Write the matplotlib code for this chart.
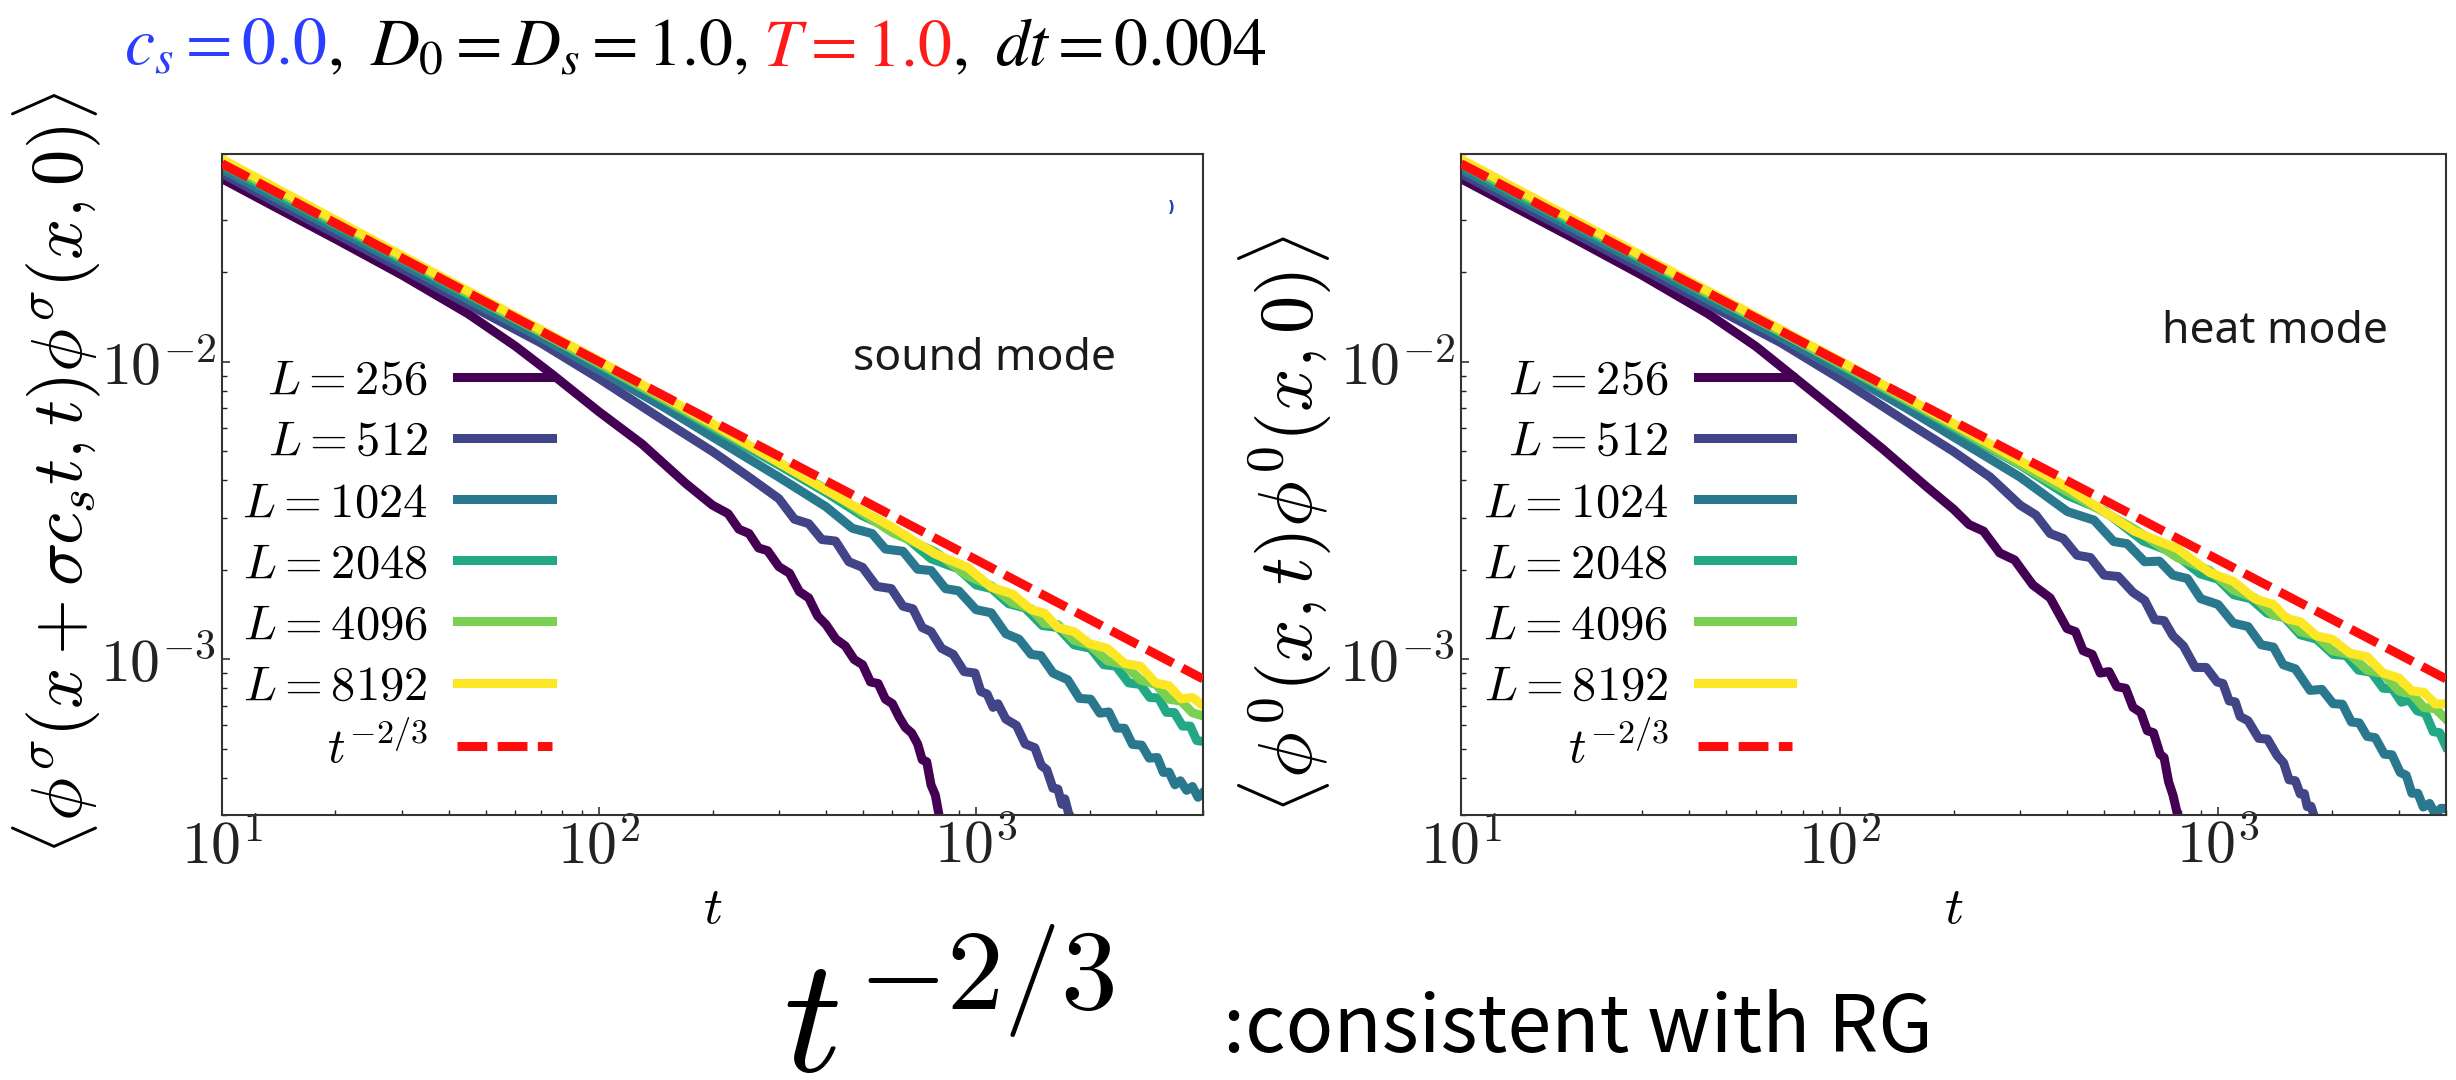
import matplotlib
matplotlib.use("Agg")
import matplotlib.pyplot as plt
from matplotlib.ticker import LogLocator, NullFormatter, FuncFormatter
import numpy as np

plt.rcParams['mathtext.fontset'] = 'cm'
plt.rcParams['font.family'] = ['DejaVu Sans']

W, H = 2456, 1080

# ---------------- data ----------------
sizes = [256, 512, 1024, 2048, 4096, 8192]
labels = [r"$L = 256$", r"$L = 512$", r"$L = 1024$", r"$L = 2048$",
          r"$L = 4096$", r"$L = 8192$"]
ref_label = r"$t^{-2/3}$"
colors = ['#440154', '#414487', '#2a788e', '#22a884', '#7ad151', '#fde725']

t_ref = [10, 4000]
v_ref_sound = [0.0464, 0.00086]
v_ref_heat = [0.0464, 0.00086]

# ---- sound mode ----
t_s256 = [10, 14, 20, 30, 45, 60, 75, 100, 130, 170, 200,
          220, 235, 250, 265, 280, 300, 320, 340, 360, 380, 400, 425, 450, 475, 500, 525, 550, 575, 600, 625,
          650, 675, 700, 720, 740, 760, 780, 800, 820]
v_s256 = [0.0413, 0.0329, 0.0259, 0.0196, 0.0145, 0.0113, 0.0091, 0.0068, 0.0053, 0.0039, 0.0033,
          3.09e-3, 2.74e-3, 2.65e-3, 2.37e-3, 2.32e-3, 2.05e-3, 1.95e-3, 1.69e-3, 1.61e-3, 1.40e-3, 1.31e-3,
          1.17e-3, 1.11e-3, 1.00e-3, 0.96e-3, 0.84e-3, 0.83e-3, 0.735e-3, 0.71e-3, 0.64e-3, 0.59e-3, 0.566e-3,
          0.52e-3, 0.46e-3, 0.453e-3, 0.378e-3, 0.35e-3, 0.294e-3, 0.27e-3]

t_s512 = [10, 14, 20, 30, 45, 70, 100, 150, 200, 250,
          300, 330, 360, 390, 424, 460, 500, 545, 596, 640, 680, 720, 760, 810, 870, 930, 994, 1030, 1070, 1110,
          1143, 1200, 1280, 1350, 1432, 1490, 1540, 1600, 1648, 1690, 1720, 1760, 1800]
v_s512 = [0.0430, 0.0342, 0.0270, 0.0206, 0.0156, 0.0116, 0.0088, 0.0063, 0.0050, 0.0041,
          3.47e-3, 2.96e-3, 2.86e-3, 2.53e-3, 2.50e-3, 2.13e-3, 2.04e-3, 1.76e-3, 1.73e-3, 1.51e-3, 1.48e-3,
          1.28e-3, 1.24e-3, 1.09e-3, 1.04e-3, 0.91e-3, 0.90e-3, 0.78e-3, 0.765e-3, 0.69e-3, 0.71e-3, 0.63e-3,
          0.60e-3, 0.52e-3, 0.505e-3, 0.44e-3, 0.426e-3, 0.369e-3, 0.367e-3, 0.326e-3, 0.34e-3, 0.304e-3, 0.29e-3]

t_s1024 = [10, 14, 20, 30, 45, 70, 100, 150, 200, 300,
           400, 470, 530, 575, 640, 700, 760, 830, 900, 1000, 1097, 1200, 1300, 1400, 1486, 1600, 1750, 1880,
           2014, 2130, 2250, 2360, 2477, 2600, 2750, 2880, 3027, 3140, 3250, 3370, 3483, 3620, 3750, 3880, 4000]
v_s1024 = [0.0445, 0.0354, 0.0280, 0.0214, 0.0162, 0.0121, 0.0094, 0.0070, 0.0056, 0.0041,
           3.26e-3, 2.76e-3, 2.65e-3, 2.35e-3, 2.31e-3, 2.01e-3, 1.99e-3, 1.73e-3, 1.70e-3, 1.47e-3, 1.435e-3,
           1.22e-3, 1.17e-3, 1.04e-3, 1.03e-3, 0.90e-3, 0.855e-3, 0.74e-3, 0.735e-3, 0.66e-3, 0.666e-3,
           0.588e-3, 0.587e-3, 0.518e-3, 0.515e-3, 0.466e-3, 0.468e-3, 0.417e-3, 0.418e-3, 0.379e-3, 0.391e-3,
           0.363e-3, 0.374e-3, 0.344e-3, 0.357e-3]

t_s2048 = [10, 14, 20, 30, 45, 70, 100, 150, 200, 300,
           400, 500, 634, 760, 896, 1000, 1100, 1220, 1349, 1500, 1650, 1820, 2014, 2180, 2350, 2540, 2729,
           2890, 3050, 3200, 3357, 3530, 3700, 3850, 4000]
v_s2048 = [0.0460, 0.0366, 0.0289, 0.0221, 0.0168, 0.0126, 0.0098, 0.0074, 0.0060, 0.0045,
           3.64e-3, 3.04e-3, 2.65e-3, 2.18e-3, 2.02e-3, 1.78e-3, 1.73e-3, 1.54e-3, 1.49e-3, 1.30e-3, 1.28e-3,
           1.12e-3, 1.09e-3, 0.96e-3, 0.95e-3, 0.834e-3, 0.824e-3, 0.745e-3, 0.742e-3, 0.664e-3, 0.663e-3,
           0.597e-3, 0.597e-3, 0.534e-3, 0.530e-3]

t_s4096 = [10, 20, 45, 100, 200,
           400, 600, 780, 950, 1097, 1250, 1400, 1520, 1648, 1820, 2000, 2230, 2477, 2730, 3000, 3250, 3500,
           3750, 4000]
v_s4096 = [0.0470, 0.0295, 0.0170, 0.0099, 0.0061,
           3.74e-3, 2.67e-3, 2.30e-3, 1.91e-3, 1.77e-3, 1.55e-3, 1.48e-3, 1.32e-3, 1.31e-3, 1.16e-3, 1.12e-3,
           0.99e-3, 0.96e-3, 0.853e-3, 0.824e-3, 0.735e-3, 0.724e-3, 0.662e-3, 0.646e-3]

t_s8192 = [10, 20, 45, 100, 200,
           400, 600, 780, 950, 1097, 1250, 1400, 1520, 1648, 1820, 2000, 2230, 2477, 2730, 3000, 3250, 3500,
           3750, 4000]
v_s8192 = [0.0480, 0.0300, 0.0173, 0.0101, 0.0062,
           3.71e-3, 2.78e-3, 2.26e-3, 2.04e-3, 1.75e-3, 1.66e-3, 1.47e-3, 1.43e-3, 1.28e-3, 1.24e-3, 1.13e-3,
           1.09e-3, 0.97e-3, 0.948e-3, 0.833e-3, 0.816e-3, 0.737e-3, 0.745e-3, 0.70e-3]

# ---- heat mode ----
t_h256 = [10, 14, 20, 30, 45, 60, 75, 100, 130, 170, 200,
          220, 240, 265, 290, 324, 360, 399, 420, 440, 465, 488, 515, 540, 570, 596, 625, 650, 675, 703, 720,
          740, 760, 780, 800]
v_h256 = [0.0413, 0.0329, 0.0259, 0.0196, 0.0145, 0.0113, 0.0090, 0.0067, 0.0051, 0.0038, 0.0032,
          2.84e-3, 2.70e-3, 2.28e-3, 2.16e-3, 1.78e-3, 1.61e-3, 1.27e-3, 1.24e-3, 1.07e-3, 1.04e-3, 0.90e-3,
          0.91e-3, 0.81e-3, 0.80e-3, 0.69e-3, 0.663e-3, 0.576e-3, 0.567e-3, 0.48e-3, 0.468e-3, 0.388e-3,
          0.35e-3, 0.304e-3, 0.28e-3]

t_h512 = [10, 14, 20, 30, 45, 70, 100, 150, 200, 250,
          300, 330, 360, 390, 424, 460, 500, 545, 596, 640, 680, 720, 760, 810, 870, 930, 994, 1030, 1070, 1110,
          1143, 1200, 1280, 1350, 1432, 1490, 1540, 1600, 1648, 1690, 1720, 1760, 1790]
v_h512 = [0.0430, 0.0342, 0.0270, 0.0206, 0.0156, 0.0116, 0.0088, 0.0063, 0.0050, 0.0041,
          3.30e-3, 3.06e-3, 2.65e-3, 2.55e-3, 2.24e-3, 2.20e-3, 1.92e-3, 1.90e-3, 1.68e-3, 1.58e-3, 1.36e-3,
          1.35e-3, 1.20e-3, 1.11e-3, 0.94e-3, 0.94e-3, 0.84e-3, 0.83e-3, 0.725e-3, 0.72e-3, 0.643e-3,
          0.622e-3, 0.543e-3, 0.54e-3, 0.475e-3, 0.449e-3, 0.394e-3, 0.391e-3, 0.353e-3, 0.354e-3, 0.32e-3,
          0.321e-3, 0.30e-3]

t_h1024 = [10, 14, 20, 30, 45, 70, 100, 150, 200, 300,
           400, 470, 530, 575, 640, 700, 760, 830, 900, 1000, 1097, 1200, 1300, 1400, 1486, 1600, 1750, 1880,
           2014, 2130, 2250, 2360, 2477, 2600, 2750, 2880, 3027, 3140, 3250, 3370, 3483, 3620, 3750, 3880, 4000]
v_h1024 = [0.0445, 0.0354, 0.0280, 0.0214, 0.0162, 0.0121, 0.0094, 0.0070, 0.0056, 0.0041,
           3.14e-3, 2.94e-3, 2.49e-3, 2.45e-3, 2.13e-3, 2.14e-3, 1.92e-3, 1.87e-3, 1.60e-3, 1.53e-3, 1.325e-3,
           1.29e-3, 1.12e-3, 1.10e-3, 0.96e-3, 0.93e-3, 0.787e-3, 0.793e-3, 0.71e-3, 0.707e-3, 0.616e-3,
           0.612e-3, 0.551e-3, 0.546e-3, 0.48e-3, 0.478e-3, 0.417e-3, 0.408e-3, 0.355e-3, 0.355e-3, 0.319e-3,
           0.328e-3, 0.301e-3, 0.316e-3, 0.315e-3]

t_h2048 = [10, 14, 20, 30, 45, 70, 100, 150, 200, 300,
           400, 500, 634, 760, 896, 1000, 1100, 1220, 1349, 1500, 1650, 1820, 2014, 2180, 2350, 2540, 2729,
           2890, 3050, 3200, 3357, 3530, 3700, 3850, 4000]
v_h2048 = [0.0460, 0.0366, 0.0289, 0.0221, 0.0168, 0.0126, 0.0098, 0.0074, 0.0060, 0.0045,
           3.56e-3, 3.16e-3, 2.50e-3, 2.29e-3, 1.94e-3, 1.86e-3, 1.65e-3, 1.60e-3, 1.43e-3, 1.38e-3, 1.21e-3,
           1.17e-3, 1.04e-3, 1.03e-3, 0.92e-3, 0.906e-3, 0.80e-3, 0.796e-3, 0.718e-3, 0.731e-3, 0.672e-3,
           0.659e-3, 0.572e-3, 0.567e-3, 0.51e-3]

t_h4096 = [10, 20, 45, 100, 200,
           400, 600, 780, 950, 1097, 1250, 1400, 1520, 1648, 1820, 2000, 2230, 2477, 2730, 3000, 3250, 3500,
           3750, 4000]
v_h4096 = [0.0470, 0.0295, 0.0170, 0.0099, 0.0061,
           3.66e-3, 2.75e-3, 2.20e-3, 1.99e-3, 1.71e-3, 1.61e-3, 1.41e-3, 1.38e-3, 1.24e-3, 1.20e-3, 1.07e-3,
           1.04e-3, 0.92e-3, 0.896e-3, 0.784e-3, 0.765e-3, 0.689e-3, 0.683e-3, 0.63e-3]

t_h8192 = [10, 20, 45, 100, 200,
           400, 600, 780, 950, 1097, 1250, 1400, 1520, 1648, 1820, 2000, 2230, 2477, 2730, 3000, 3250, 3500,
           3750, 4000]
v_h8192 = [0.0480, 0.0300, 0.0173, 0.0101, 0.0062,
           3.79e-3, 2.70e-3, 2.36e-3, 1.96e-3, 1.83e-3, 1.60e-3, 1.53e-3, 1.37e-3, 1.34e-3, 1.20e-3, 1.17e-3,
           1.05e-3, 1.02e-3, 0.90e-3, 0.867e-3, 0.784e-3, 0.775e-3, 0.708e-3, 0.71e-3]

sound_series = [(t_s256, v_s256), (t_s512, v_s512), (t_s1024, v_s1024),
                (t_s2048, v_s2048), (t_s4096, v_s4096), (t_s8192, v_s8192)]
heat_series = [(t_h256, v_h256), (t_h512, v_h512), (t_h1024, v_h1024),
               (t_h2048, v_h2048), (t_h4096, v_h4096), (t_h8192, v_h8192)]

xlim = (10, 4000)
ylim = (3e-4, 0.05)

ylabel_sound = r"$\langle \phi^{\sigma}(x+\sigma c_s t, t)\phi^{\sigma}(x,0)\rangle$"
ylabel_heat = r"$\langle \phi^{0}(x,t)\phi^{0}(x,0)\rangle$"

# ---------------- figure ----------------
fig = plt.figure(figsize=(W / 100, H / 100), dpi=100)

ax_bottom = 1 - 815 / H
ax_height = 661 / H
ax1 = fig.add_axes([222 / W, ax_bottom, 981 / W, ax_height])
ax2 = fig.add_axes([1461 / W, ax_bottom, 985 / W, ax_height])

LW = 6.5


def tick_fmt(v, pos):
    e = int(round(np.log10(v)))
    return r"$10^{%d}$" % e


def panel(ax, series, v_ref, ylabel, ylab_size, mode_text, mode_xy, ylab_xy):
    handles = []
    for (t, v), c, lab in zip(series, colors, labels):
        ln, = ax.plot(t, v, color=c, lw=LW, solid_joinstyle='round', label=lab, zorder=2)
        handles.append(ln)
    rl, = ax.plot(t_ref, v_ref, color='#ff0d0d', lw=LW, ls=(0, (3.3, 1.15)), label=ref_label, zorder=3)
    handles.append(rl)
    ax.set_xscale('log')
    ax.set_yscale('log')
    ax.set_xlim(*xlim)
    ax.set_ylim(*ylim)
    for s in ax.spines.values():
        s.set_linewidth(1.5)
        s.set_color('#333333')
    ax.tick_params(which='both', direction='in', top=False, right=False, colors='#222222')
    ax.tick_params(which='major', length=6, width=1.1, labelsize=43, pad=4)
    ax.tick_params(which='minor', length=3.8, width=1.0)
    ax.tick_params(axis='x', which='major', pad=2)
    ax.xaxis.set_major_locator(LogLocator(base=10))
    ax.yaxis.set_major_locator(LogLocator(base=10))
    ax.xaxis.set_minor_locator(LogLocator(base=10, subs=np.arange(2, 10)))
    ax.yaxis.set_minor_locator(LogLocator(base=10, subs=np.arange(2, 10)))
    ax.xaxis.set_major_formatter(FuncFormatter(tick_fmt))
    ax.yaxis.set_major_formatter(FuncFormatter(tick_fmt))
    ax.xaxis.set_minor_formatter(NullFormatter())
    ax.yaxis.set_minor_formatter(NullFormatter())

    ax.set_xlabel(r"$t$", fontsize=38)
    ax.xaxis.set_label_coords(0.5, -0.14)
    ax.xaxis.label.set_va('center')
    ax.set_ylabel(ylabel, fontsize=ylab_size)
    ax.yaxis.set_label_coords(*ylab_xy)
    ax.yaxis.label.set_va('center')

    leg = ax.legend(handles=handles, loc='center right', bbox_to_anchor=(0.3364, 0.379),
                    frameon=False, markerfirst=False, fontsize=35, handlelength=1.95,
                    handletextpad=0.6, labelspacing=0.27, borderpad=0, borderaxespad=0)
    ax.text(mode_xy[0], mode_xy[1], mode_text, transform=ax.transAxes, fontsize=32,
            family='Noto Sans', color='#1a1a1a', va='baseline', ha='left')
    return leg


panel(ax1, sound_series, v_ref_sound, ylabel_sound, 52, "sound mode", (0.643, 0.673), (-0.168, 0.516))
panel(ax2, heat_series, v_ref_heat, ylabel_heat, 55, "heat mode", (0.712, 0.714), (-0.178, 0.440))

# small blue artefact at the top right of the left panel
fig.text(1168 / W, 1 - 212 / H, ")", color='#2040c0', fontsize=11, fontweight='bold')

# ---------------- title with coloured parts ----------------
renderer = fig.canvas.get_renderer()
pieces = [(r"$c_s = 0.0$", '#2b3dff'), (r"$,\ D_0 = D_s = 1.0,$", 'black'),
          (r"$\ T = 1.0$", '#ff1a1a'), (r"$,\ dt = 0.004$", 'black')]
x = 124 / W
for s, c in pieces:
    tt = fig.text(x, 1 - 65 / H, s, color=c, fontsize=48.8, math_fontfamily='stix',
                  va='baseline', ha='left')
    bb = tt.get_window_extent(renderer)
    x += bb.width / W

# ---------------- bottom texts ----------------
fig.text(783 / W, 1 - 1072 / H, r"$t^{-2/3}$", fontsize=117, va='baseline', ha='left')
fig.text(1223 / W, 1 - 1052 / H, ":consistent with RG", fontsize=57,
         family='Noto Sans CJK JP', va='baseline', ha='left')

fig.savefig("out.png", dpi=100)
